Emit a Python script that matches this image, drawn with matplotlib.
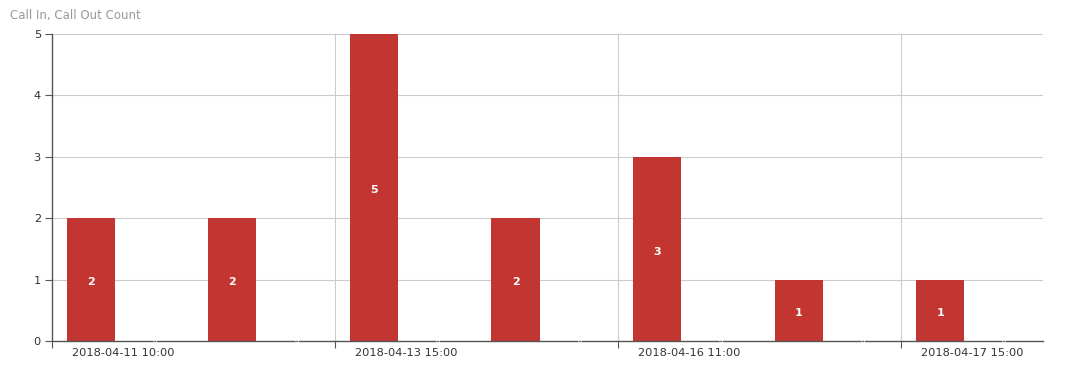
import matplotlib
matplotlib.use("Agg")
import matplotlib.pyplot as plt
import numpy as np

categories = ["2018-04-11 10:00", "2018-04-12 09:00", "2018-04-13 15:00",
              "2018-04-14 10:00", "2018-04-16 11:00", "2018-04-16 16:00",
              "2018-04-17 15:00"]
call_in = [2, 2, 5, 2, 3, 1, 1]
call_out = [0, 0, 0, 0, 0, 0, 0]
y_ticks = [0, 1, 2, 3, 4, 5]

RED = "#c23531"
AXIS = "#555555"
TEXT = "#333333"
GRID = "#cccccc"

fig = plt.figure(figsize=(10.86, 3.70), dpi=100)
ax = fig.add_axes([52 / 1086, 29 / 370, (1043 - 52) / 1086, (341 - 34) / 370])

x = np.arange(len(categories))
width = 0.34
offset = 0.226
bars_in = ax.bar(x - offset, call_in, width, color=RED, zorder=3)
bars_out = ax.bar(x + offset, call_out, width, color="#2f4554", zorder=3)

for rect, v in zip(bars_in, call_in):
    ax.annotate(str(v), (rect.get_x() + rect.get_width() / 2, v / 2),
                xytext=(0, -2), textcoords="offset points",
                ha="center", va="center", color="white", fontsize=8,
                fontweight="semibold", zorder=4)
for rect, v in zip(bars_out, call_out):
    ax.text(rect.get_x() + rect.get_width() / 2, v, str(v),
            ha="center", va="center", color="white", fontsize=5, zorder=6)

ax.set_xlim(-0.5, len(categories) - 0.5)
ax.set_ylim(0, 5)

# horizontal split lines
ax.set_yticks(y_ticks)
ax.yaxis.grid(True, color=GRID, linewidth=0.8, zorder=0)
# vertical split lines every second category
for b in [1.5, 3.5, 5.5]:
    ax.axvline(b, color=GRID, linewidth=0.8, zorder=0)

# x ticks at boundaries, labels on every second category
ax.set_xticks([-0.5, 1.5, 3.5, 5.5])
ax.set_xticklabels([])
ax.set_xticks(x[::2], minor=True)
ax.set_xticklabels([categories[i] for i in x[::2]], minor=True)
ax.tick_params(axis="x", which="major", length=5, color=AXIS, direction="out")
ax.tick_params(axis="x", which="minor", length=0, pad=5, labelsize=8.2,
               labelcolor=TEXT)
ax.tick_params(axis="y", length=5, color=AXIS, labelsize=8.2, labelcolor=TEXT,
               pad=3)

for s in ["top", "right"]:
    ax.spines[s].set_visible(False)
for s in ["left", "bottom"]:
    ax.spines[s].set_color(AXIS)
    ax.spines[s].set_linewidth(1.0)
    ax.spines[s].set_zorder(5)

fig.text(10 / 1086, 1 - 16 / 370, "Call In, Call Out Count", color="#999999",
         fontsize=8.5, ha="left", va="center")

fig.savefig("out.png", dpi=100)
